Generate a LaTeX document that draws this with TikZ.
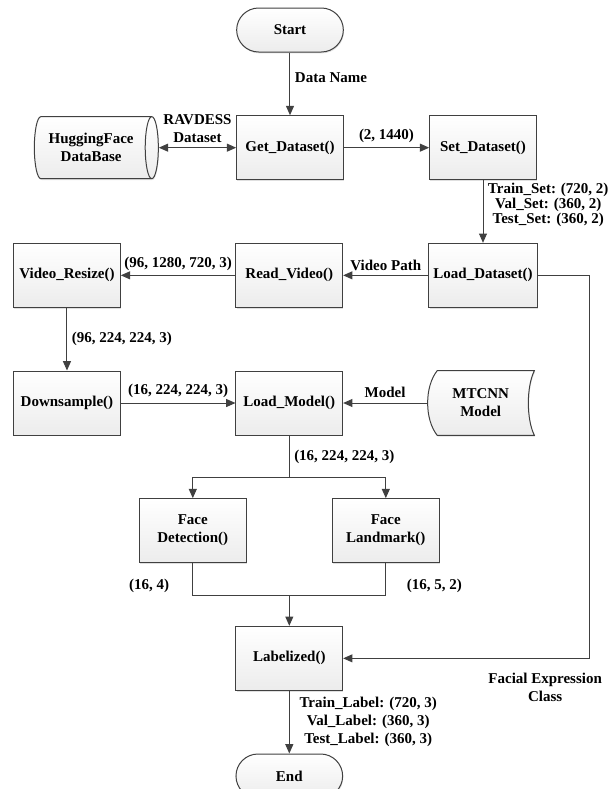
\documentclass[tikz,border=0pt]{standalone}
\usepackage{fontspec}
\setmainfont{Liberation Serif}
\usetikzlibrary{positioning,arrows.meta,calc,shapes.geometric,shadows,backgrounds}
\definecolor{cline}{HTML}{404040}
\definecolor{cshade}{HTML}{ECECEC}

\begin{document}
\begin{tikzpicture}[node distance=47pt and 64pt, >={Triangle[length=7pt, width=6pt]},
    every node/.style={font=\fontsize{11.25pt}{13.5pt}\selectfont\bfseries, align=center},
    shade/.style={draw=cline, line width=.75pt, top color=white, bottom color=cshade, drop shadow={shadow xshift=.5pt, shadow yshift=-1pt, opacity=.25}},
    box/.style={shade, minimum width=80pt, minimum height=48pt},
    pill/.style={box, minimum height=33pt, rounded corners=16.5pt},
    cyl/.style={shade, cylinder, shape aspect=.35, minimum height=93pt, minimum width=46.5pt},
    wire/.style={draw=cline, line width=.75pt},
    arr/.style={wire, ->},
    darr/.style={wire, <->},
    tight/.style={font=\fontsize{11.25pt}{11.25pt}\selectfont\bfseries}]
    \useasboundingbox (-217.5pt,22.5pt) rectangle (243pt,-569.25pt);
    \node[pill] (start) {Start};
    \node[box, below=of start] (getds) {Get\_Dataset()};
    \node[box, right=of getds] (setds) {Set\_Dataset()};
    \node[cyl, left=58pt of getds] (hf) {HuggingFace\\DataBase};
    \node[box, below=of setds] (loadds) {Load\_Dataset()};
    \node[box, left=of loadds] (readvid) {Read\_Video()};
    \node[box, left=86pt of readvid] (resize) {Video\_Resize()};
    \node[box, below=of resize] (down) {Downsample()};
    \node[box, right=86pt of down] (loadmod) {Load\_Model()};
    \node[right=63pt of loadmod, minimum width=80pt, minimum height=48pt] (mtcnn) {MTCNN\\Model};
    \node[box, below left=47pt and 32pt of loadmod.south] (facedet) {Face\\Detection()};
    \node[box, below right=47pt and 32pt of loadmod.south] (faceland) {Face\\Landmark()};
    \node[box, below=of $(facedet.south)!.5!(faceland.south)$] (lab) {Labelized()};
    \node[pill, below=of lab] (finish) {End};
    \begin{scope}[on background layer]
      \path[shade] ([xshift=7.5pt]mtcnn.north west) -- (mtcnn.north east)
        .. controls ([xshift=-6pt, yshift=-12pt]mtcnn.north east) and ([xshift=-6pt, yshift=12pt]mtcnn.south east) .. (mtcnn.south east)
        -- ([xshift=7.5pt]mtcnn.south west)
        .. controls ([xshift=-2pt, yshift=12pt]mtcnn.south west) and ([xshift=-2pt, yshift=-12pt]mtcnn.north west) .. cycle;
    \end{scope}
    \coordinate[below=31.5pt of loadmod] (split);
    \coordinate[below=24pt of $(facedet.south)!.5!(faceland.south)$] (merge);
    \coordinate[right=39pt of loadds] (side);
    \draw[arr] (start) -- node[right, pos=.4] {Data Name} (getds);
    \draw[darr] (hf) -- node[above] {RAVDESS\\Dataset} (getds);
    \draw[arr] (getds) -- node[above] {(2, 1440)} (setds);
    \draw[arr] (setds) -- node[right, pos=.4, tight] {Train\_Set: (720, 2)\\Val\_Set: (360, 2)\\Test\_Set: (360, 2)} (loadds);
    \draw[arr] (loadds) -- node[above] {Video Path} (readvid);
    \draw[arr] (readvid) -- node[above] {(96, 1280, 720, 3)} (resize);
    \draw[arr] (resize) -- node[right] {(96, 224, 224, 3)} (down);
    \draw[arr] (down) -- node[above] {(16, 224, 224, 3)} (loadmod);
    \draw[arr] (mtcnn) -- node[above] {Model} (loadmod);
    \draw[wire] (loadmod) -- node[right] {(16, 224, 224, 3)} (split);
    \draw[arr] (split) -| (facedet);
    \draw[arr] (split) -| (faceland);
    \draw[wire] (facedet) |- node[left=14pt, pos=.35] {(16, 4)} (merge);
    \draw[wire] (faceland) |- node[right=12pt, pos=.35] {(16, 5, 2)} (merge);
    \draw[arr] (merge) -- (lab);
    \draw[arr] (loadds) -- (side) |- node[below=7pt, pos=.59] {Facial Expression\\Class} (lab);
    \draw[arr] (lab) -- node[right=4pt] {Train\_Label: (720, 3)\\Val\_Label: (360, 3)\\Test\_Label: (360, 3)} (finish);
\end{tikzpicture}
\end{document}
